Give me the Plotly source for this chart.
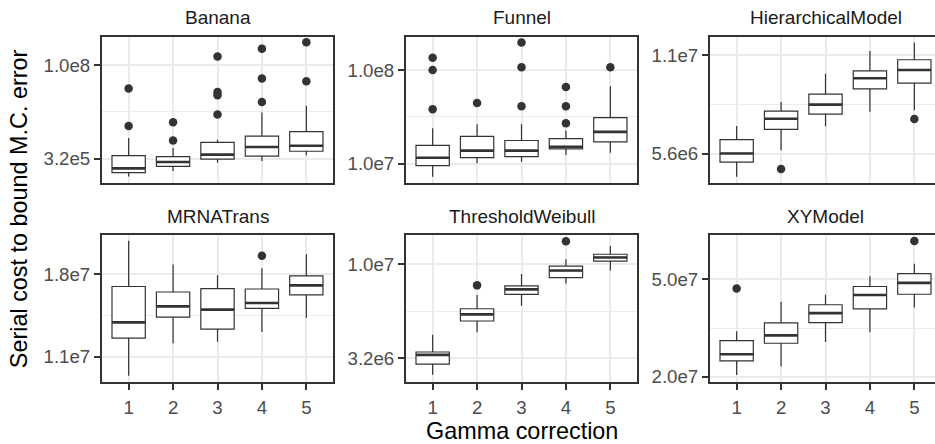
import plotly.graph_objects as go

gamma = [1, 2, 3, 4, 5]
panels = ["Banana", "Funnel", "HierarchicalModel", "MRNATrans", "ThresholdWeibull", "XYModel"]

# ---- Banana ----
banana_low = [1.06e5, 1.50e5, 2.48e5, 2.75e5, 3.95e5]
banana_q1 = [1.36e5, 1.98e5, 3.10e5, 3.72e5, 5.04e5]
banana_med = [1.76e5, 2.59e5, 4.10e5, 6.55e5, 7.08e5]
banana_q3 = [3.86e5, 3.64e5, 8.69e5, 1.27e6, 1.69e6]
banana_high = [1.13e6, 6.15e5, 1.02e6, 5.46e6, 8.18e6]
banana_out_x = [1, 1, 2, 2, 3, 3, 3, 3, 4, 4, 4, 5, 5]
banana_out_y = [2.38e6, 2.38e7, 9.8e5, 2.98e6, 4.83e6, 1.56e7, 1.91e7, 1.69e8,
                1.04e7, 4.37e7, 2.75e8, 3.72e7, 4.10e8]
banana_ticks = [3.1623e5, 1.0e8]
banana_labels = ["3.2e5", "1.0e8"]
banana_minor = [5.6234e6]

# ---- Funnel ----
funnel_low = [7.24e6, 1.01e7, 1.05e7, 1.24e7, 1.31e7]
funnel_q1 = [9.53e6, 1.16e7, 1.19e7, 1.44e7, 1.71e7]
funnel_med = [1.16e7, 1.38e7, 1.38e7, 1.52e7, 2.19e7]
funnel_q3 = [1.57e7, 1.96e7, 1.77e7, 1.85e7, 3.10e7]
funnel_high = [2.39e7, 2.64e7, 2.64e7, 2.26e7, 6.73e7]
funnel_out_x = [1, 1, 1, 2, 3, 3, 3, 4, 4, 4, 5]
funnel_out_y = [3.82e7, 1.0e8, 1.35e8, 4.46e7, 4.11e7, 1.07e8, 1.97e8,
                2.70e7, 4.11e7, 6.58e7, 1.07e8]
funnel_ticks = [1.0e7, 1.0e8]
funnel_labels = ["1.0e7", "1.0e8"]
funnel_minor = [3.1623e7]

# ---- HierarchicalModel ----
hier_low = [4.79e6, 5.77e6, 6.82e6, 7.55e6, 7.64e6]
hier_q1 = [5.31e6, 6.68e6, 7.43e6, 8.87e6, 9.23e6]
hier_med = [5.64e6, 7.19e6, 7.94e6, 9.55e6, 1.012e7]
hier_q3 = [6.21e6, 7.59e6, 8.55e6, 1.005e7, 1.087e7]
hier_high = [6.84e6, 8.09e6, 9.86e6, 1.156e7, 1.225e7]
hier_out_x = [2, 5]
hier_out_y = [5.06e6, 7.18e6]
hier_ticks = [5.6234e6, 1.1220e7]
hier_labels = ["5.6e6", "1.1e7"]
hier_minor = [7.9433e6]

# ---- MRNATrans ----
mrna_low = [1.01e7, 1.21e7, 1.22e7, 1.288e7, 1.393e7]
mrna_q1 = [1.245e7, 1.40e7, 1.31e7, 1.469e7, 1.585e7]
mrna_med = [1.36e7, 1.486e7, 1.46e7, 1.514e7, 1.67e7]
mrna_q3 = [1.66e7, 1.61e7, 1.64e7, 1.637e7, 1.76e7]
mrna_high = [2.14e7, 1.875e7, 1.766e7, 1.837e7, 1.987e7]
mrna_out_x = [4]
mrna_out_y = [1.97e7]
mrna_ticks = [1.1220e7, 1.7783e7]
mrna_labels = ["1.1e7", "1.8e7"]
mrna_minor = [1.4125e7]

# ---- ThresholdWeibull ----
weib_low = [2.58e6, 4.35e6, 6.01e6, 7.91e6, 9.29e6]
weib_q1 = [2.94e6, 4.99e6, 6.92e6, 8.51e6, 1.041e7]
weib_med = [3.29e6, 5.41e6, 7.36e6, 9.27e6, 1.089e7]
weib_q3 = [3.41e6, 5.80e6, 7.69e6, 9.80e6, 1.133e7]
weib_high = [4.22e6, 6.87e6, 8.89e6, 1.066e7, 1.254e7]
weib_out_x = [2, 4]
weib_out_y = [7.73e6, 1.33e7]
weib_ticks = [3.1623e6, 1.0e7]
weib_labels = ["3.2e6", "1.0e7"]
weib_minor = [5.6234e6]

# ---- XYModel ----
xy_low = [2.03e7, 2.20e7, 2.77e7, 3.04e7, 3.84e7]
xy_q1 = [2.32e7, 2.74e7, 3.33e7, 3.79e7, 4.35e7]
xy_med = [2.47e7, 2.95e7, 3.64e7, 4.32e7, 4.84e7]
xy_q3 = [2.81e7, 3.32e7, 3.94e7, 4.68e7, 5.28e7]
xy_high = [3.07e7, 4.05e7, 4.33e7, 5.15e7, 5.80e7]
xy_out_x = [1, 5]
xy_out_y = [4.59e7, 7.18e7]
xy_ticks = [1.9953e7, 5.0119e7]
xy_labels = ["2.0e7", "5.0e7"]
xy_minor = [3.1623e7]

panel_data = [
    (banana_low, banana_q1, banana_med, banana_q3, banana_high, banana_out_x, banana_out_y,
     banana_ticks, banana_labels, banana_minor),
    (funnel_low, funnel_q1, funnel_med, funnel_q3, funnel_high, funnel_out_x, funnel_out_y,
     funnel_ticks, funnel_labels, funnel_minor),
    (hier_low, hier_q1, hier_med, hier_q3, hier_high, hier_out_x, hier_out_y,
     hier_ticks, hier_labels, hier_minor),
    (mrna_low, mrna_q1, mrna_med, mrna_q3, mrna_high, mrna_out_x, mrna_out_y,
     mrna_ticks, mrna_labels, mrna_minor),
    (weib_low, weib_q1, weib_med, weib_q3, weib_high, weib_out_x, weib_out_y,
     weib_ticks, weib_labels, weib_minor),
    (xy_low, xy_q1, xy_med, xy_q3, xy_high, xy_out_x, xy_out_y,
     xy_ticks, xy_labels, xy_minor),
]

# ---- layout geometry ----
W, H = 935, 444
col_px = [(102, 333), (406, 637), (710, 935)]
row_px = [(37, 186), (238, 387)]
px_per_unit = 231 / 5.2
y_ranges = [
    [4.842, 8.763], [6.789, 8.358], [6.66, 7.107],
    [6.99, 7.345], [6.374, 7.158], [7.28, 7.882],
]

FONT = "Liberation Sans"
DARK = "#333333"
GRID = "#EBEBEB"

fig = go.Figure()
layout = dict(
    width=W, height=H,
    margin=dict(l=0, r=0, t=0, b=0),
    paper_bgcolor="white", plot_bgcolor="white",
    showlegend=False, boxmode="overlay",
    font=dict(family=FONT, color="#4D4D4D", size=18.7),
    annotations=[],
)

for i, (lo, q1, med, q3, hi, ox, oy, tv, tl, mn) in enumerate(panel_data):
    r, c = divmod(i, 3)
    n = "" if i == 0 else str(i + 1)
    xa, ya = "x" + n, "y" + n
    x0, x1 = col_px[c]
    yt, yb = row_px[r]
    xmax = 0.4 + (x1 - x0) / px_per_unit

    fig.add_trace(go.Box(
        x=gamma, q1=q1, median=med, q3=q3, lowerfence=lo, upperfence=hi,
        width=0.75, whiskerwidth=0, boxpoints=False,
        fillcolor="white", line=dict(color=DARK, width=1.2),
        xaxis=xa, yaxis=ya, hoverinfo="skip",
    ))
    # thicker median bar (plotly's line-ew symbol spans 1.4 x size)
    fig.add_trace(go.Scatter(
        x=gamma, y=med, mode="markers",
        marker=dict(symbol="line-ew", size=0.75 * px_per_unit / 1.4,
                    line=dict(color=DARK, width=2.6)),
        xaxis=xa, yaxis=ya, hoverinfo="skip",
    ))
    fig.add_trace(go.Scatter(
        x=ox, y=oy, mode="markers",
        marker=dict(size=8.5, color=DARK, line=dict(width=0)),
        xaxis=xa, yaxis=ya, hoverinfo="skip",
    ))

    bottom = (r == 1)
    layout["xaxis" + n] = dict(
        domain=[x0 / W, x1 / W], anchor=ya,
        range=[0.4, xmax], tickmode="array", tickvals=gamma,
        ticktext=[str(g) for g in gamma],
        showticklabels=bottom, ticks="outside" if bottom else "",
        ticklen=6, tickwidth=1.5, tickcolor=DARK, ticklabelstandoff=2,
        tickfont=dict(family=FONT, size=18.7, color="#4D4D4D"),
        showgrid=True, gridcolor=GRID, gridwidth=2,
        showline=True, mirror=True, linecolor=DARK, linewidth=2,
        zeroline=False, fixedrange=True,
    )
    layout["yaxis" + n] = dict(
        domain=[1 - yb / H, 1 - yt / H], anchor=xa,
        type="log", range=y_ranges[i],
        tickmode="array", tickvals=tv, ticktext=tl,
        ticks="outside", ticklen=6, tickwidth=1.5, tickcolor=DARK,
        tickfont=dict(family=FONT, size=18.7, color="#4D4D4D"),
        showgrid=True, gridcolor=GRID, gridwidth=2,
        minor=dict(tickvals=mn, showgrid=True, gridcolor=GRID, gridwidth=1, ticks=""),
        showline=True, mirror=(c != 2), linecolor=DARK, linewidth=2,
        zeroline=False, fixedrange=True,
    )
    # strip title
    cx = (x0 + (x0 + 231)) / 2
    cy = yt - 19
    layout["annotations"].append(dict(
        text=panels[i], x=cx / W, y=1 - cy / H, xref="paper", yref="paper",
        xanchor="center", yanchor="middle", showarrow=False,
        font=dict(family=FONT, size=19, color="#1A1A1A"),
    ))

layout["annotations"].append(dict(
    text="Gamma correction", x=521.5 / W, y=1 - 437 / H, xref="paper", yref="paper",
    xanchor="center", yanchor="middle", showarrow=False,
    font=dict(family=FONT, size=23.4, color="black"),
))
layout["annotations"].append(dict(
    text="Serial cost to bound M.C. error", x=19 / W, y=1 - 212 / H,
    xref="paper", yref="paper", xanchor="center", yanchor="middle",
    textangle=-90, showarrow=False,
    font=dict(family=FONT, size=23.4, color="black"),
))

fig.update_layout(**layout)
fig.write_html(
    "out.html",
    config={"displayModeBar": False},
    post_script="document.body.style.margin='0';document.body.style.overflow='hidden';",
)
